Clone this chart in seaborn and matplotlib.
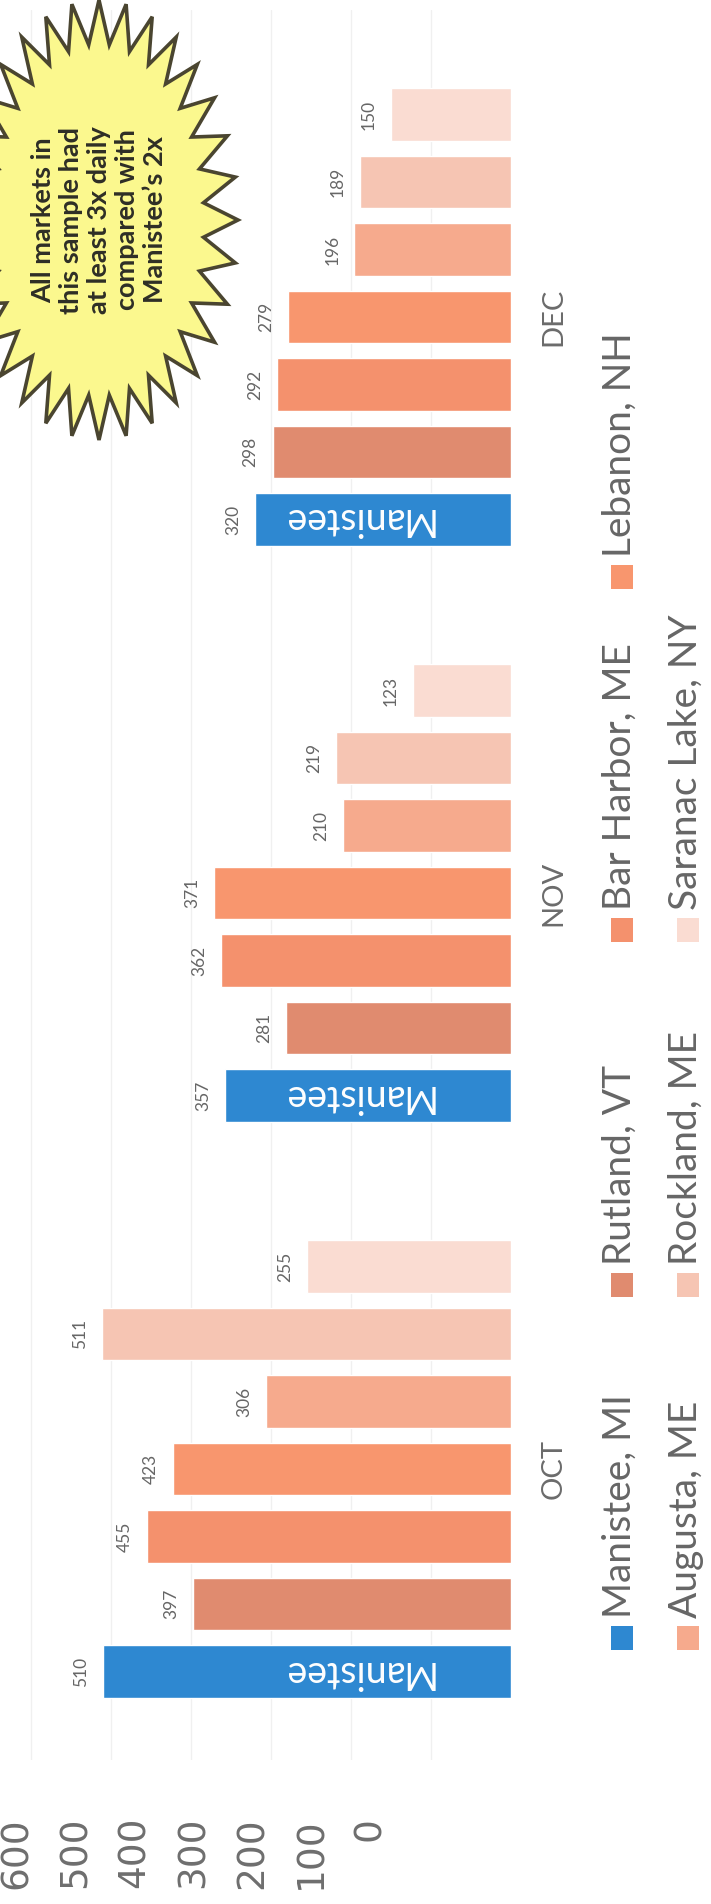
import numpy as np
import pandas as pd
import matplotlib
matplotlib.use("Agg")
import matplotlib.pyplot as plt
from matplotlib.patches import Polygon, Rectangle
from matplotlib.colors import same_color
import seaborn as sns

# chart values
months = ["OCT", "NOV", "DEC"]
markets = ["Manistee, MI", "Rutland, VT", "Bar Harbor, ME", "Lebanon, NH",
           "Augusta, ME", "Rockland, ME", "Saranac Lake, NY"]
oct_vals = [510, 397, 455, 423, 306, 511, 255]
nov_vals = [357, 281, 362, 371, 210, 219, 123]
dec_vals = [320, 298, 292, 279, 196, 189, 150]
colors = ["#2E88D1", "#E08B6F", "#F4916D", "#F8966E", "#F6AA8D", "#F6C5B3", "#FADCD2"]
value_ticks = [0, 100, 200, 300, 400, 500, 600]
note = "All markets in\nthis sample had\nat least 3x daily\ncompared with\nManistee\u2019s 2x"

df = pd.DataFrame({
    "month": np.repeat(months, len(markets)),
    "market": markets * len(months),
    "value": oct_vals + nov_vals + dec_vals,
})

sns.set_style("white")
plt.rcParams["font.family"] = ["Lato", "DejaVu Sans"]

W, H = 711, 1904
fig = plt.figure(figsize=(W / 100, H / 100), dpi=100)
ax = fig.add_axes([5 / W, 1 - 1760 / H, (511 - 5) / W, (1760 - 10) / H])

sns.barplot(data=df, x="value", y="month", hue="market",
            order=months[::-1], hue_order=markets[::-1],
            palette=dict(zip(markets, colors)), orient="h",
            width=0.82, gap=0.22, saturation=1, errorbar=None,
            legend=False, ax=ax)

ax.set_xlim(632.5, 0)
ax.set_ylim(2.505, -0.533)
ax.set_xlabel("")
ax.set_ylabel("")
ax.set_xticks(value_ticks[1:])
ax.grid(axis="x", color="#F0F0F0", lw=1)
ax.set_axisbelow(True)
ax.tick_params(axis="x", length=0, labelbottom=False)
ax.yaxis.tick_right()
ax.tick_params(axis="y", length=0, pad=21, labelsize=21, labelcolor="#6B6B6B",
               labelrotation=90)
for lbl in ax.get_yticklabels():
    lbl.set_va("center")
sns.despine(ax=ax, left=True, bottom=True)

# value labels
for cont in ax.containers:
    ax.bar_label(cont, fmt="%d", padding=10, rotation=90, fontsize=12.5,
                 color="#666666")

# bar name inside the Manistee bars
for p in ax.patches:
    if same_color(p.get_facecolor(), colors[0]):
        yc = p.get_y() + p.get_height() / 2
        ax.text(193, yc, "Manistee", rotation=180, ha="center", va="center",
                color="white", fontsize=27)

# value axis labels
ax2 = ax.twiny()
ax2.set_xlim((370 - 5) / 0.588, (370 - 511) / 0.588)
ax2.set_xticks(value_ticks)
ax2.xaxis.set_ticks_position("bottom")
ax2.tick_params(axis="x", length=0, pad=41, labelsize=27, labelcolor="#6E6E6E",
                labelrotation=90)
for lbl in ax2.get_xticklabels():
    lbl.set_family("DejaVu Sans")
ax2.grid(False)
for s in ax2.spines.values():
    s.set_visible(False)

# overlay in pixel units for legend and callout
ov = fig.add_axes([0, 0, 1, 1])
ov.set_xlim(0, W)
ov.set_ylim(H, 0)
ov.axis("off")

row_x = [622, 688]
col_y = [1638, 1285, 930, 577]
for i, (m, c) in enumerate(zip(markets, colors)):
    r, k = divmod(i, 4)
    xc, yc = row_x[r], col_y[k]
    ov.add_patch(Rectangle((xc - 11, yc - 12), 22, 24, fc=c, ec="none"))
    ov.text(xc - 2, yc - 20, m, rotation=90, ha="center", va="bottom",
            fontsize=28, color="#666666")

n = 32
ang = np.pi / 2 + np.arange(2 * n) * np.pi / n
rx = np.where(np.arange(2 * n) % 2 == 0, 139, 105)
ry = np.where(np.arange(2 * n) % 2 == 0, 220, 176)
pts = np.column_stack([99 + rx * np.cos(ang), 220 - ry * np.sin(ang)])
ov.add_patch(Polygon(pts, closed=True, fc="#FBF88E", ec="#4A4530", lw=2.6))
ov.text(99, 220, note, rotation=90, ha="center", va="center",
        multialignment="center", fontsize=19.5, fontweight="bold",
        color="#2E2E26", linespacing=1.2)

fig.savefig("out.png", dpi=100)
